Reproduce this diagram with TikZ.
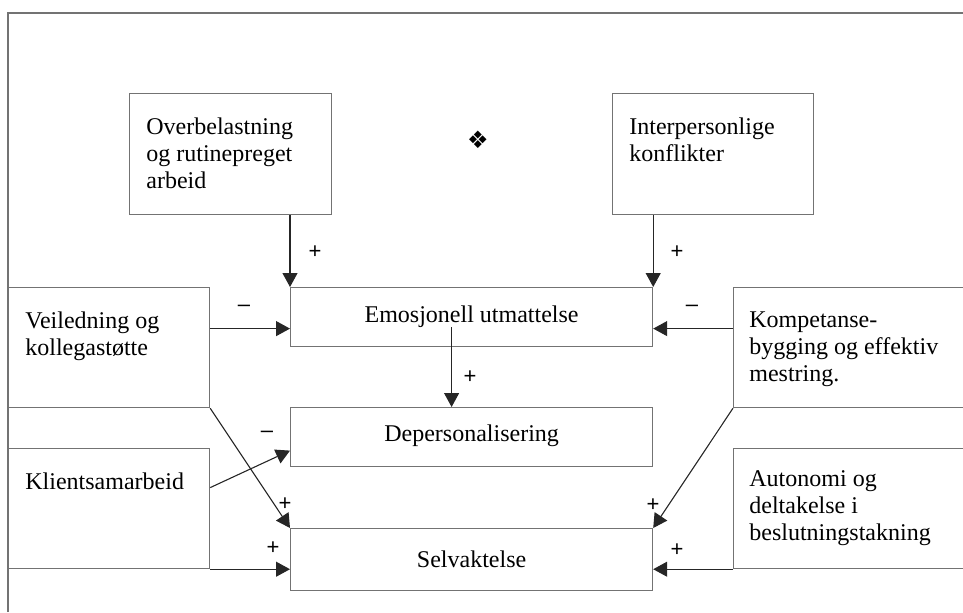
\documentclass[tikz,border=0pt]{standalone}
\usepackage{fontspec}
\setmainfont{Liberation Serif}
\setsansfont{Liberation Sans}
\newfontfamily\symbolfont{DejaVu Sans}
\usetikzlibrary{arrows.meta,positioning}
\definecolor{kantgraa}{gray}{0.45}
\tikzset{ramme/.style={draw=kantgraa, line width=0.6pt, anchor=north west, inner sep=0pt,
        font=\fontsize{12}{13.5}\selectfont}}
\tikzset{tekst/.style={anchor=north west, align=left, inner sep=0pt,
        font=\fontsize{12}{13.5}\selectfont}}
\tikzset{pil/.style={-{Triangle[length=7pt,width=7.5pt]}, line width=0.55pt, black!85}}
\tikzset{fortegn/.style={inner sep=0pt, font=\sffamily\fontsize{11}{11}\selectfont}}

\begin{document}
\begin{tikzpicture}[x=0.5pt, y=-0.5pt]
    \useasboundingbox (0,0) rectangle (963,612);
    \clip (0,0) rectangle (963,612);
    \draw[kantgraa, line width=0.6pt] (8,612) -- (8,13) -- (963,13);
    \node[ramme, minimum width=101pt, minimum height=60.5pt] (ov) at (129,93) {};
    \node[ramme, minimum width=100.5pt, minimum height=60.5pt] (ip) at (612,93) {};
    \node[ramme, minimum width=181pt, minimum height=29.5pt] (em) at (290,287) {Emosjonell utmattelse};
    \node[ramme, minimum width=181pt, minimum height=29.5pt, text depth=4pt] (dp) at (290,407) {Depersonalisering};
    \node[ramme, minimum width=181pt, minimum height=31pt] (sv) at (290,528) {Selvaktelse};
    \node[ramme, minimum width=100.5pt, minimum height=60pt] (vl) at (8,287) {};
    \node[ramme, minimum width=100.5pt, minimum height=60pt] (kl) at (8,448) {};
    \node[ramme, minimum width=150pt, minimum height=60pt] (ko) at (733,287) {};
    \node[ramme, minimum width=150pt, minimum height=60pt] (au) at (733,448) {};
    \node[tekst] (ovtekst) at ([shift={(17,24)}]ov.north west) {Overbelastning\\og rutinepreget\\arbeid};
    \node[tekst] (iptekst) at ([shift={(17,24)}]ip.north west) {Interpersonlige\\konflikter};
    \node[tekst] (vltekst) at ([shift={(17,24)}]vl.north west) {Veiledning og\\kollegastøtte};
    \node[tekst] (kltekst) at ([shift={(17,24)}]kl.north west) {Klientsamarbeid};
    \node[tekst] (kotekst) at ([shift={(16,24)}]ko.north west) {Kompetanse-\\bygging og effektiv\\mestring.};
    \node[tekst] (autekst) at ([shift={(16,22)}]au.north west) {Autonomi og\\deltakelse i\\beslutningstakning};
    \node[font=\symbolfont\fontsize{12}{12}\selectfont, inner sep=0pt] (pynt) at (478,140) {❖};
    \coordinate (emV) at ([yshift=-5.75pt]em.west);
    \coordinate (emH) at ([yshift=-5.75pt]em.east);
    \coordinate (emStart) at ([shift={(-20,10)}]em.center);
    \draw[pil] (ov.south -| em.north west) -- (em.north west);
    \draw[pil] (ip.south -| em.north east) -- (em.north east);
    \draw[pil] (vl.east |- emV) -- (emV);
    \draw[pil] (ko.west |- emH) -- (emH);
    \draw[pil] (emStart) -- (emStart |- dp.north);
    \draw[pil] ([yshift=10.5pt]kl.east) -- ([yshift=-6.75pt]dp.west);
    \draw[pil] (vl.south east) -- (sv.north west);
    \draw[pil] (ko.south west) -- (sv.north east);
    \draw[pil] (kl.south east) -- (kl.south east -| sv.west);
    \draw[pil] (au.south west) -- (au.south west -| sv.east);
    \node[fortegn] (s1) at (315,252) {+};
    \node[fortegn] (s2) at (677,252) {+};
    \node[fortegn] (s3) at (244,308) {\textendash};
    \node[fortegn] (s4) at (692,308) {\textendash};
    \node[fortegn] (s5) at (470,377) {+};
    \node[fortegn] (s6) at (267,434) {\textendash};
    \node[fortegn] (s7) at (285,504) {+};
    \node[fortegn] (s8) at (273,548) {+};
    \node[fortegn] (s9) at (653,505) {+};
    \node[fortegn] (s10) at (677,550) {+};
\end{tikzpicture}
\end{document}
